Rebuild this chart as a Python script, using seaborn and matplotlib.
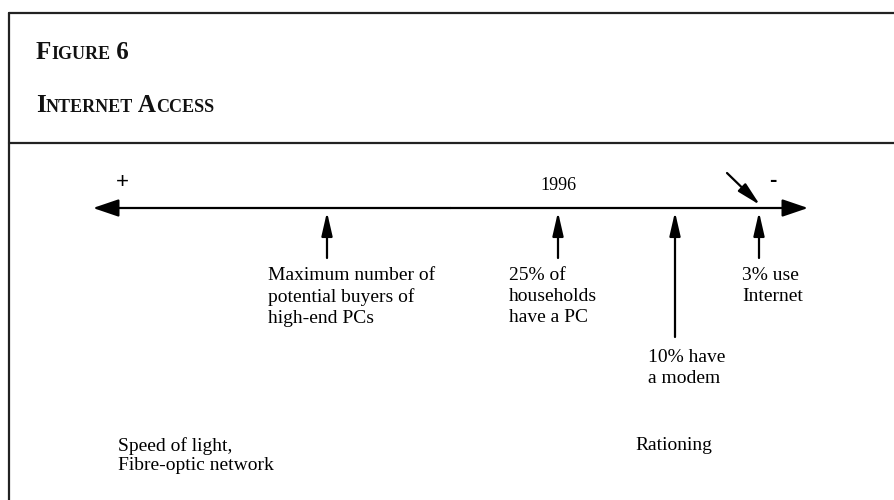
import matplotlib
matplotlib.use("Agg")
import matplotlib.pyplot as plt
import seaborn as sns

# events along the access scale (x in picture units), label text and arrow tail
event_labels = [
    "Maximum number of\npotential buyers of\nhigh-end PCs",
    "25% of\nhouseholds\nhave a PC",
    "10% have\na modem",
    "3% use\nInternet",
]
event_pos = [327, 558, 675, 759]
event_tail = [258, 258, 337, 258]
label_left = [268, 509, 648, 742]

axis_ends = [93, 808]
year_label = "1996"
year_pos = 558
end_labels = ["Speed of light,\nFibre-optic network", "Rationing"]
end_pos = [118, 635]

sns.set_theme(style="white")
serif = ["Liberation Serif", "DejaVu Serif"]
sans = ["Liberation Sans", "DejaVu Sans"]

fig = plt.figure(figsize=(8.95, 5), dpi=100)
ax = fig.add_axes([0, 0, 1, 1])
ax.set_xlim(0, 895)
ax.set_ylim(500, 0)
ax.axis("off")

# frame
ax.plot([9, 9], [13, 500], color="#222222", lw=1.6)
ax.plot([9, 895], [13, 13], color="#222222", lw=1.6)
ax.plot([9, 895], [143, 143], color="#222222", lw=1.6)


def small_caps(x, y, parts):
    fig.canvas.draw()
    r = fig.canvas.get_renderer()
    inv = ax.transData.inverted()
    for txt, size in parts:
        t = ax.text(x, y, txt, fontsize=size, fontweight="bold", family=serif,
                    va="baseline", ha="left", color="#111111")
        bb = t.get_window_extent(renderer=r)
        x = inv.transform((bb.x1, bb.y0))[0]


small_caps(36, 59, [("F", 18), ("IGURE", 13), (" 6", 18)])
small_caps(36, 112, [("I", 18), ("NTERNET", 13), (" A", 18), ("CCESS", 13)])

# main axis with heads at both ends
y0 = 208
head = "-|>,head_length=1.0,head_width=0.34"
mid = sum(axis_ends) / 2
for end in axis_ends:
    ax.annotate("", xy=(end, y0), xytext=(mid, y0),
                arrowprops=dict(arrowstyle=head, color="black", lw=1.6,
                                mutation_scale=15.8, shrinkA=0, shrinkB=0))

ax.text(122, 183, "+", fontsize=16, family=sans, ha="center", va="center", color="black")
ax.text(773, 181, "-", fontsize=16, family=sans, ha="center", va="center",
        color="black", fontweight="bold")
ax.text(year_pos, 186, year_label, fontsize=13, family=serif, ha="center", va="center",
        color="black")

# event arrows and labels
up = "-|>,head_length=1.0,head_width=0.23"
for lab, xp, tail, lx in zip(event_labels, event_pos, event_tail, label_left):
    ax.annotate("", xy=(xp, 212), xytext=(xp, tail),
                arrowprops=dict(arrowstyle=up, color="black", lw=1.6,
                                mutation_scale=14.4, shrinkA=0, shrinkB=0))
    ax.text(lx, tail + 9 if tail < 300 else tail + 12, lab, fontsize=14, family=serif,
            ha="left", va="top", linespacing=1.32, color="black")

# diagonal pointer at the Internet mark
ax.annotate("", xy=(event_pos[3] + 1, 205), xytext=(727, 173),
            arrowprops=dict(arrowstyle=up, color="black", lw=1.6,
                            mutation_scale=14.4, shrinkA=0, shrinkB=0))

for lab, xp in zip(end_labels, end_pos):
    ax.text(xp, 437, lab, fontsize=14, family=serif, ha="left", va="top",
            linespacing=1.2, color="black")

fig.savefig("out.png", dpi=100)
